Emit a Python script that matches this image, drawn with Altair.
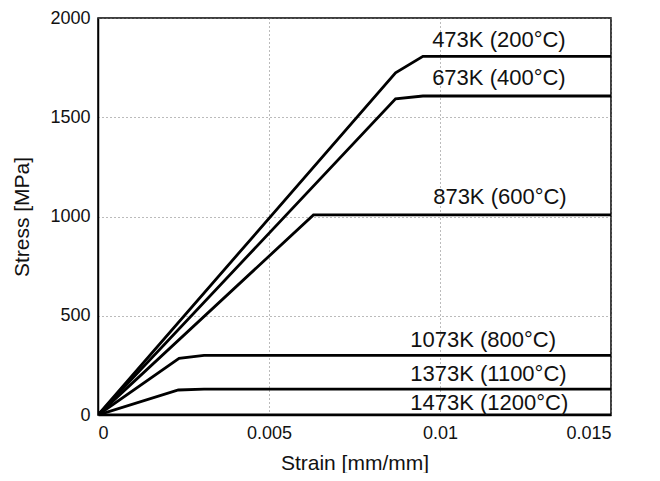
import altair as alt
import pandas as pd

# ---- data ----
series = ["473K", "673K", "873K", "1073K", "1373K", "1473K"]
strain_473 = [0, 0.0087, 0.0095, 0.015]
stress_473 = [0, 1724, 1807, 1807]
strain_673 = [0, 0.0087, 0.0095, 0.015]
stress_673 = [0, 1593, 1607, 1607]
strain_873 = [0, 0.0063, 0.015]
stress_873 = [0, 1008, 1008]
strain_1073 = [0, 0.00237, 0.0031, 0.015]
stress_1073 = [0, 285, 300, 300]
strain_1373 = [0, 0.00235, 0.0031, 0.015]
stress_1373 = [0, 126, 130, 130]
strain_1473 = [0, 0.015]
stress_1473 = [0, 0]

label_texts = ["473K (200°C)", "673K (400°C)", "873K (600°C)",
               "1073K (800°C)", "1373K (1100°C)", "1473K (1200°C)"]
label_x = [0.00977, 0.00977, 0.0098, 0.00913, 0.00913, 0.00913]
label_y = [1887, 1700, 1100, 379, 209, 60]

x_ticks = [0, 0.005, 0.01, 0.015]
y_ticks = [0, 500, 1000, 1500, 2000]

strains = [strain_473, strain_673, strain_873, strain_1073, strain_1373, strain_1473]
stresses = [stress_473, stress_673, stress_873, stress_1073, stress_1373, stress_1473]

rows = []
for name, xs, ys in zip(series, strains, stresses):
    for i, (xv, yv) in enumerate(zip(xs, ys)):
        rows.append({"series": name, "idx": i, "strain": xv, "stress": yv})
df = pd.DataFrame(rows)
labels = pd.DataFrame({"text": label_texts, "x": label_x, "y": label_y})

FONT = "Liberation Sans"

xscale = alt.Scale(domain=[0, 0.015], nice=False, zero=False)
yscale = alt.Scale(domain=[0, 2000], nice=False)

lines = alt.Chart(df).mark_line(color="black", strokeWidth=2.8, clip=True).encode(
    x=alt.X("strain:Q", scale=xscale, title="Strain [mm/mm]",
            axis=alt.Axis(values=x_ticks, format="~g", grid=True, ticks=False,
                          labelPadding=9, titlePadding=10)),
    y=alt.Y("stress:Q", scale=yscale, title="Stress [MPa]",
            axis=alt.Axis(values=y_ticks, format="d", grid=True, ticks=False,
                          labelPadding=8, titlePadding=17)),
    detail="series:N",
    order="idx:Q",
)

text = alt.Chart(labels).mark_text(align="left", baseline="middle", font=FONT,
                                   fontSize=22, color="#111111").encode(
    x=alt.X("x:Q", scale=xscale),
    y=alt.Y("y:Q", scale=yscale),
    text="text:N",
)

chart = (lines + text).properties(
    width=513, height=397,
    autosize=alt.AutoSizeParams(type="none"),
    padding={"left": 90, "top": 10, "right": 41, "bottom": 58},
).configure_view(
    stroke="black", strokeWidth=1.5
).configure_axis(
    labelFont=FONT, titleFont=FONT, labelFontSize=18, titleFontSize=21,
    labelColor="#111111", titleColor="#111111", titleFontWeight="normal",
    domainColor="black", domainWidth=1.5,
    gridColor="#777777", gridDash=[1, 3], gridWidth=1, gridOpacity=1,
)

chart.save("out.html", embed_options={"renderer": "svg", "actions": False})
